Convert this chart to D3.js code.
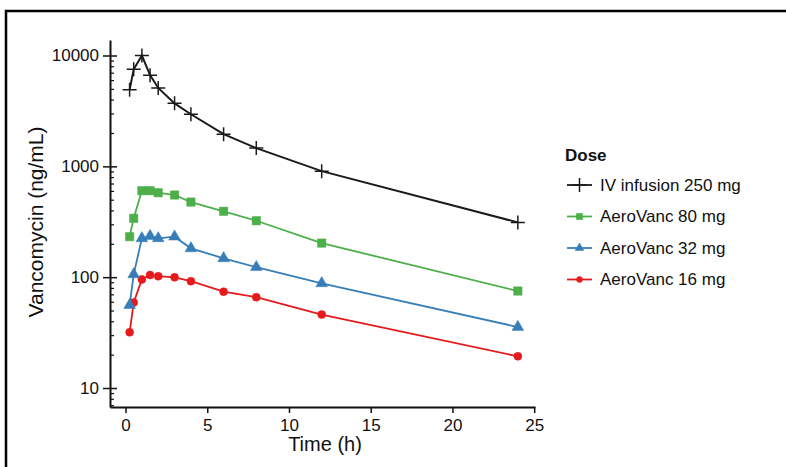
<!DOCTYPE html>
<html>
<head>
<meta charset="utf-8">
<script src="https://cdn.jsdelivr.net/npm/d3@7"></script>
<style>
  body { margin: 0; background: #fff; }
  text { font-family: "Liberation Sans", Arial, sans-serif; fill: #111; }
</style>
</head>
<body>
<div id="chart"></div>
<script>
// sampling times (h)
const times = [0.25, 0.5, 1, 1.5, 2, 3, 4, 6, 8, 12, 24]

// concentrations (ng/mL)
const iv250 = [4900, 7500, 10000, 6650, 5100, 3700, 2950, 1950, 1460, 905, 312]
const aero80 = [232, 340, 603, 603, 578, 551, 476, 393, 323, 203, 75]
const aero32 = [56, 106, 224, 235, 224, 232, 182, 148, 123, 88, 35.5]
const aero16 = [31.8, 59, 95.5, 104.5, 102, 99.6, 92, 74, 66, 46, 19.3]

const seriesNames = ["IV infusion 250 mg", "AeroVanc 80 mg", "AeroVanc 32 mg", "AeroVanc 16 mg"]
const seriesValues = [iv250, aero80, aero32, aero16]
const seriesColors = ["#1a1a1a", "#4daf4a", "#377eb8", "#e41a1c"]
const seriesMarkers = ["plus", "square", "triangle", "circle"]

const xTicks = [0, 5, 10, 15, 20, 25]
const yTicks = [10, 100, 1000, 10000]

const w = 786
const h = 467

const svg = d3.select("#chart").append("svg").attr("width", w).attr("height", h)

// frame around the figure
svg.append("rect")
	.attr("x", 6).attr("y", 11)
	.attr("width", 820).attr("height", 500)
	.attr("fill", "none").attr("stroke", "#000").attr("stroke-width", 2.5)

const x = d3.scaleLinear().domain([-0.95, 25.05]).range([110, 535])
const y = d3.scaleLog().domain([6.74, 13800]).range([407, 40])

// x axis
const xAxis = svg.append("g")
	.attr("transform", "translate(0,407)")
	.call(d3.axisBottom(x).tickValues(xTicks).tickSizeInner(6).tickSizeOuter(0).tickFormat(d3.format("d")))
xAxis.select(".domain").attr("stroke", "#111").attr("stroke-width", 2)
xAxis.selectAll(".tick line").attr("stroke", "#111").attr("stroke-width", 1.5)
xAxis.selectAll(".tick text").attr("font-size", 17).attr("font-family", "Liberation Sans, Arial, sans-serif").attr("fill", "#111").attr("dy", "0.9em")

// y axis, major ticks cross the line
const yAxis = svg.append("g")
	.attr("transform", "translate(110,0)")
	.call(d3.axisLeft(y).tickValues(yTicks).tickSizeInner(7).tickSizeOuter(0).tickPadding(4).tickFormat(d3.format("d")))
yAxis.select(".domain").attr("stroke", "#111").attr("stroke-width", 2)
yAxis.selectAll(".tick line").attr("x2", 7).attr("x1", -7).attr("stroke", "#111").attr("stroke-width", 1.5)
yAxis.selectAll(".tick text").attr("font-size", 17).attr("font-family", "Liberation Sans, Arial, sans-serif").attr("fill", "#111").attr("x", -11)

// minor ticks on the inside
const minor = []
for (let p = 0; p <= 4; p++) {
	for (let m = 2; m <= 9; m++) {
		const v = m * Math.pow(10, p)
		if (v > y.domain()[0] && v < y.domain()[1]) minor.push(v)
	}
}
const yMinor = svg.append("g")
	.attr("transform", "translate(110,0)")
	.call(d3.axisRight(y).tickValues(minor).tickSize(4).tickFormat(""))
yMinor.select(".domain").remove()
yMinor.selectAll(".tick line").attr("stroke", "#111").attr("stroke-width", 1.2)

// axis titles
svg.append("text")
	.attr("x", 325).attr("y", 451)
	.attr("text-anchor", "middle")
	.attr("font-size", 20)
	.text("Time (h)")

svg.append("text")
	.attr("transform", "translate(43,222) rotate(-90)")
	.attr("text-anchor", "middle")
	.attr("font-size", 21)
	.text("Vancomycin (ng/mL)")

function markerPath(kind, s) {
	if (kind === "plus") return `M${-s},0H${s}M0,${-s}V${s}`
	if (kind === "square") return d3.symbol(d3.symbolSquare, s * s * 4)()
	if (kind === "triangle") return d3.symbol(d3.symbolTriangle, s * s * 3.2)()
	return d3.symbol(d3.symbolCircle, Math.PI * s * s)()
}

const markerSize = { plus: 7, square: 4.2, triangle: 4.3, circle: 4 }

const line = d3.line().x(d => x(d[0])).y(d => y(d[1]))

// draw the lower series first so the IV curve sits on top
for (let i = seriesNames.length - 1; i >= 0; i--) {
	const pts = times.map((t, j) => [t, seriesValues[i][j]])
	const g = svg.append("g")
	g.append("path")
		.attr("d", line(pts))
		.attr("fill", "none")
		.attr("stroke", seriesColors[i])
		.attr("stroke-width", i === 0 ? 2 : 1.8)
	const kind = seriesMarkers[i]
	g.selectAll("path.mk")
		.data(pts)
		.enter()
		.append("path")
		.attr("class", "mk")
		.attr("transform", d => `translate(${x(d[0])},${y(d[1])})`)
		.attr("d", markerPath(kind, markerSize[kind]))
		.attr("fill", kind === "plus" ? "none" : seriesColors[i])
		.attr("stroke", seriesColors[i])
		.attr("stroke-width", kind === "plus" ? 1.5 : 0.5)
}

// legend
const legend = svg.append("g").attr("transform", "translate(565,0)")
legend.append("text")
	.attr("x", 0).attr("y", 161)
	.attr("font-size", 17)
	.attr("font-weight", "bold")
	.text("Dose")

seriesNames.forEach((name, i) => {
	const ly = 185 + i * 31.5
	const kind = seriesMarkers[i]
	legend.append("line")
		.attr("x1", 2).attr("x2", 27)
		.attr("y1", ly).attr("y2", ly)
		.attr("stroke", seriesColors[i])
		.attr("stroke-width", 1.8)
	legend.append("path")
		.attr("transform", `translate(14.5,${ly})`)
		.attr("d", markerPath(kind, kind === "plus" ? 7 : markerSize[kind] * 0.75))
		.attr("fill", kind === "plus" ? "none" : seriesColors[i])
		.attr("stroke", seriesColors[i])
		.attr("stroke-width", kind === "plus" ? 1.5 : 0.5)
	legend.append("text")
		.attr("x", 35).attr("y", ly)
		.attr("dy", "0.35em")
		.attr("font-size", 17)
		.text(name)
})
</script>
</body>
</html>
